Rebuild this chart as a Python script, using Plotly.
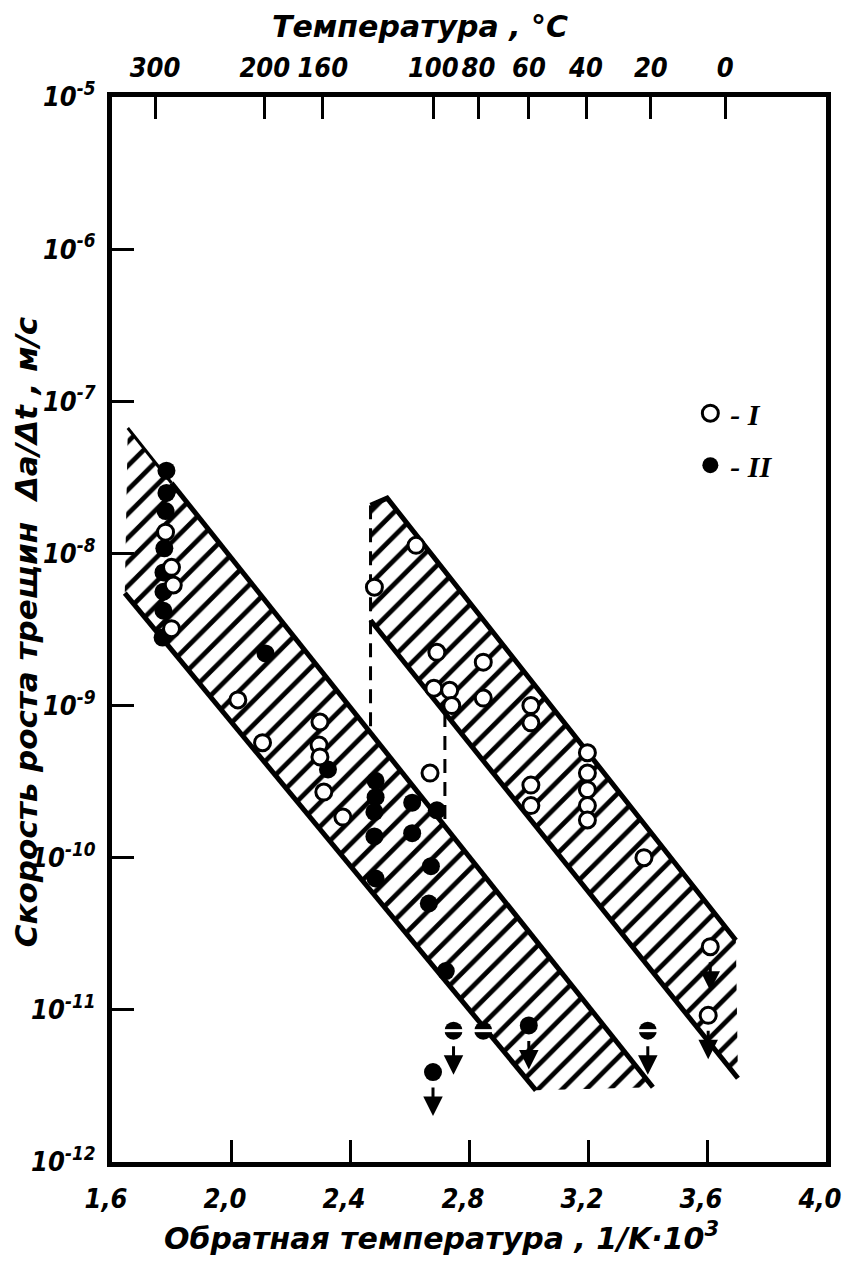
import numpy as np
import plotly.graph_objects as go

# ---------------- axis data ----------------
x_tickvals = [1.6, 2.0, 2.4, 2.8, 3.2, 3.6, 4.0]
x_ticktext = ["1,6", "2,0", "2,4", "2,8", "3,2", "3,6", "4,0"]
temp_c = [300, 200, 160, 100, 80, 60, 40, 20, 0]
y_exps = [-5, -6, -7, -8, -9, -10, -11, -12]

# ---------------- series I (open circles) ----------------
open_x = [1.780, 1.800, 1.806, 1.800, 2.023, 2.106, 2.299, 2.296, 2.299, 2.312,
          2.376, 2.482, 2.622, 2.692, 2.682, 2.735, 2.742, 2.848, 2.848, 3.008,
          3.008, 3.008, 3.008, 3.198, 3.198, 3.198, 3.198, 3.198, 3.388, 3.611,
          3.604, 2.669]
open_y = [1.38e-8, 8.1e-9, 6.2e-9, 3.2e-9, 1.09e-9, 5.7e-10, 7.8e-10, 5.5e-10, 4.6e-10, 2.7e-10,
          1.85e-10, 6.0e-9, 1.13e-8, 2.24e-9, 1.30e-9, 1.26e-9, 1.00e-9, 1.93e-9, 1.12e-9, 1.00e-9,
          7.7e-10, 3.0e-10, 2.2e-10, 4.9e-10, 3.6e-10, 2.8e-10, 2.2e-10, 1.77e-10, 1.0e-10, 2.6e-11,
          9.2e-12, 3.6e-10]
open_arrow = [False] * 29 + [True, True, False]

# ---------------- series II (filled circles) ----------------
fill_x = [1.783, 1.783, 1.780, 1.776, 1.773, 1.773, 1.773, 1.770, 2.116, 2.326,
          2.486, 2.486, 2.482, 2.482, 2.609, 2.692, 2.609, 2.486, 2.672, 2.665,
          2.722]
fill_y = [3.5e-8, 2.5e-8, 1.9e-8, 1.08e-8, 7.5e-9, 5.6e-9, 4.2e-9, 2.8e-9, 2.2e-9, 3.8e-10,
          3.2e-10, 2.5e-10, 2.0e-10, 1.38e-10, 2.3e-10, 2.05e-10, 1.45e-10, 7.3e-11, 8.8e-11, 5.0e-11,
          1.8e-11]

# upper-bound values of series II (below detection)
ub_x = [2.679, 2.748, 2.848, 3.001, 3.401]
ub_y = [3.9e-12, 7.3e-12, 7.3e-12, 7.9e-12, 7.3e-12]
ub_half = [False, True, True, False, True]
ub_arrow = [True, True, False, True, True]

# ---------------- scatter bands ----------------
band1_x = [1.653, 3.418, 3.025, 1.643]
band1_y = [6.67e-8, 3.10e-12, 2.96e-12, 5.48e-9]
band2_x = [2.469, 2.525, 3.697, 3.704, 2.469]
band2_y = [2.07e-8, 2.31e-8, 2.87e-11, 3.55e-12, 3.64e-9]

# transition (dashed) lines
dash1_x = [2.469, 2.469]
dash1_y = [2.07e-8, 6.62e-10]
dash2_x = [2.719, 2.719]
dash2_y = [8.93e-10, 1.61e-10]

TICKFONT = "Liberation Sans Narrow, DejaVu Sans Condensed, Roboto, sans-serif"
TITLEFONT = "DejaVu Sans, sans-serif"

fig = go.Figure()

hatch = dict(shape="/", fgcolor="black", fgopacity=1, bgcolor="rgba(0,0,0,0)",
             size=17, solidity=0.28)
for bx, by in [(band1_x, band1_y), (band2_x, band2_y)]:
    fig.add_trace(go.Scatter(x=bx + [bx[0]], y=by + [by[0]], mode="lines", fill="toself",
                             fillcolor="black", fillpattern=hatch,
                             line=dict(width=0, color="black"), showlegend=False, hoverinfo="skip"))

# band boundaries
xq = 1.80
yq = 10 ** (np.log10(band1_y[0]) + (np.log10(band1_y[1]) - np.log10(band1_y[0])) *
            (xq - band1_x[0]) / (band1_x[1] - band1_x[0]))
fig.add_trace(go.Scatter(x=[band1_x[0], xq], y=[band1_y[0], yq], mode="lines",
                         line=dict(color="black", width=3), showlegend=False, hoverinfo="skip"))
fig.add_trace(go.Scatter(x=[xq, band1_x[1]], y=[yq, band1_y[1]], mode="lines",
                         line=dict(color="black", width=5), showlegend=False, hoverinfo="skip"))
fig.add_trace(go.Scatter(x=[band1_x[3], band1_x[2]], y=[band1_y[3], band1_y[2]], mode="lines",
                         line=dict(color="black", width=5), showlegend=False, hoverinfo="skip"))
fig.add_trace(go.Scatter(x=band2_x[0:3], y=band2_y[0:3], mode="lines",
                         line=dict(color="black", width=5), showlegend=False, hoverinfo="skip"))
fig.add_trace(go.Scatter(x=[band2_x[4], band2_x[3]], y=[band2_y[4], band2_y[3]], mode="lines",
                         line=dict(color="black", width=5), showlegend=False, hoverinfo="skip"))
for dx, dy in [(dash1_x, dash1_y), (dash2_x, dash2_y)]:
    fig.add_trace(go.Scatter(x=dx, y=dy, mode="lines",
                             line=dict(color="black", width=3, dash="14px,9px"),
                             showlegend=False, hoverinfo="skip"))

# filled points (series II)
fig.add_trace(go.Scatter(x=fill_x + ub_x, y=fill_y + ub_y, mode="markers", name="- II",
                         legendgroup="II", legendrank=2,
                         marker=dict(symbol="circle", size=18, color="black",
                                     line=dict(width=0)), hoverinfo="skip"))
hx = [x for x, h in zip(ub_x, ub_half) if h]
hy = [y for y, h in zip(ub_y, ub_half) if h]
fig.add_trace(go.Scatter(x=hx, y=hy, mode="markers", showlegend=False, hoverinfo="skip",
                         marker=dict(symbol="line-ew", size=18, color="white",
                                     line=dict(width=3, color="white"))))
# open points (series I)
fig.add_trace(go.Scatter(x=open_x, y=open_y, mode="markers", name="- I",
                         legendgroup="I", legendrank=1,
                         marker=dict(symbol="circle", size=16, color="white",
                                     line=dict(width=3, color="black")), hoverinfo="skip"))

# dummy trace for top axis
fig.add_trace(go.Scatter(x=[1.6, 4.0], y=[1e-12, 1e-5], xaxis="x2", mode="markers",
                         marker=dict(opacity=0), showlegend=False, hoverinfo="skip"))

# arrows for upper-bound values
arrows = []
for x, y, a in list(zip(open_x, open_y, open_arrow)) + list(zip(ub_x, ub_y, ub_arrow)):
    if a:
        arrows.append(dict(x=x, y=np.log10(y), xref="x", yref="y", text="", showarrow=True,
                           arrowhead=2, arrowsize=1.3, arrowwidth=3, arrowcolor="black",
                           ax=0, ay=-30, yshift=-44))

tickfont = dict(family=TICKFONT, size=27, color="black", style="italic", weight="bold")
titlefont = dict(family=TITLEFONT, size=30, color="black", style="italic", weight="bold")

fig.update_layout(
    width=854, height=1262,
    margin=dict(l=112, r=21, t=97, b=100),
    paper_bgcolor="white", plot_bgcolor="white",
    showlegend=True,
    legend=dict(x=0.81, y=0.7275, xanchor="left", yanchor="top", bgcolor="rgba(0,0,0,0)",
                font=dict(family="Liberation Serif, serif", size=30, color="black",
                          style="italic", weight="bold"),
                tracegroupgap=10, traceorder="grouped"),
    xaxis=dict(range=[1.6, 4.0], tickvals=x_tickvals, ticktext=x_ticktext,
               ticks="inside", ticklen=22, tickwidth=3, tickcolor="black",
               showline=True, linewidth=5, linecolor="black", mirror=True,
               showgrid=False, zeroline=False, tickfont=tickfont, ticklabelstandoff=9,
               ticklabelshift=-6),
    xaxis2=dict(range=[1.6, 4.0], overlaying="x", side="top",
                tickvals=[1000.0 / (t + 273.15) for t in temp_c],
                ticktext=[str(t) for t in temp_c],
                ticks="inside", ticklen=22, tickwidth=3, tickcolor="black",
                showline=False, showgrid=False, zeroline=False, tickfont=tickfont,
                ticklabelstandoff=14),
    yaxis=dict(type="log", range=[-12, -5], tickvals=[10.0 ** e for e in y_exps],
               ticktext=["10<sup>%d</sup>" % e for e in y_exps],
               ticks="inside", ticklen=22, tickwidth=3, tickcolor="black",
               showline=True, linewidth=5, linecolor="black", mirror=True,
               showgrid=False, zeroline=False, tickfont=tickfont, ticklabelstandoff=6),
    annotations=arrows + [
        dict(text="Температура , °C", xref="paper", yref="paper", x=0.431, y=1.066,
             showarrow=False, font=titlefont, xanchor="center", yanchor="middle"),
        dict(text="Обратная температура , 1/K·10<sup>3</sup>", xref="paper", yref="paper",
             x=0.462, y=-0.0695, showarrow=False, font=titlefont,
             xanchor="center", yanchor="middle"),
        dict(text="Скорость роста трещин  Δa/Δt , м/с", xref="paper", yref="paper",
             x=-0.12, y=0.4977, showarrow=False, font=dict(titlefont, size=31), textangle=-90,
             xanchor="center", yanchor="middle"),
    ],
)

fig.write_html("out.html", config={"displayModeBar": False},
               post_script="document.body.style.margin='0';")
